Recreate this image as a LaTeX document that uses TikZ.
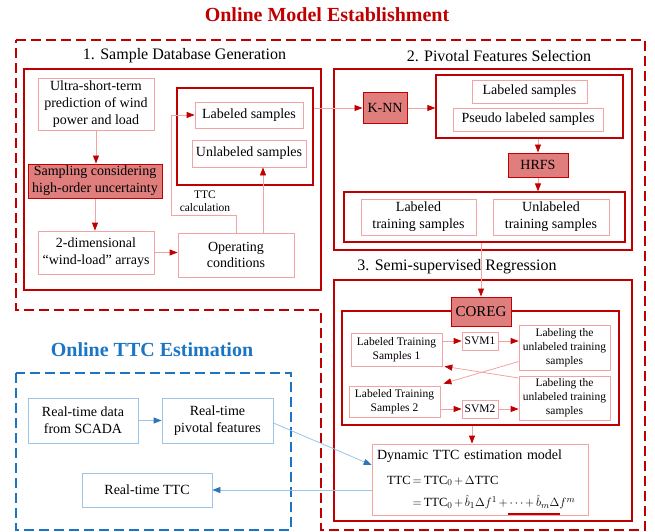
\documentclass[tikz,border=0pt]{standalone}
\usepackage{fontspec}
\setmainfont{Liberation Serif}
\usetikzlibrary{arrows.meta}
\definecolor{darkred}{HTML}{C00000}
\definecolor{pinkline}{HTML}{F2A4A4}
\definecolor{keyfill}{HTML}{E07E7E}
\definecolor{darkblue}{HTML}{1A75C4}
\definecolor{lightblue}{HTML}{9DC3E6}
\definecolor{tipblue}{HTML}{2E75B6}
\tikzstyle{plainbox} = [rectangle, draw=pinkline, line width=0.8pt, inner sep=1pt, align=center, font=\fontsize{14}{16.7}\selectfont]
\tikzstyle{smallbox} = [plainbox, font=\fontsize{11.5}{14}\selectfont]
\tikzstyle{keybox} = [rectangle, draw=darkred, fill=keyfill, line width=1pt, inner sep=1pt, align=center, font=\fontsize{14}{16.7}\selectfont]
\tikzstyle{groupbox} = [rectangle, draw=darkred, line width=1.2pt, inner sep=0pt]
\tikzstyle{stagebox} = [rectangle, draw=darkred, line width=1.5pt, inner sep=0pt]
\tikzstyle{bluebox} = [rectangle, draw=lightblue, line width=0.8pt, inner sep=1pt, align=center, font=\fontsize{14}{16.7}\selectfont]
\tikzstyle{stagetitle} = [font=\fontsize{16}{19}\selectfont]
\tikzstyle{maintitle} = [font=\fontsize{20}{24}\selectfont\bfseries]
\tikzstyle{plainline} = [draw=pinkline, line width=0.8pt]
\tikzstyle{arrow} = [plainline, -{Triangle[length=8pt,width=6pt,color=darkred]}]
\tikzstyle{bluearrow} = [draw=lightblue, line width=0.8pt, -{Triangle[length=8pt,width=6pt,color=tipblue]}]
\newcommand{\tight}{\medmuskip=2.5mu\thickmuskip=3mu}
\begin{document}
\begin{tikzpicture}[x=1pt,y=-1pt]
\useasboundingbox (0,0) rectangle (655,532);

% Regions
\draw[darkred, line width=1.8pt, dash pattern=on 10pt off 5pt] (16,40) -- (645,40) -- (645,530) -- (321,530) -- (321,310) -- (16,310) -- cycle;
\draw[darkblue, line width=1.8pt, dash pattern=on 10pt off 5pt] (16,373) rectangle (291,530);

\node (title) [maintitle, text=darkred] at (327,15) {Online Model Establishment};
\node (esttitle) [maintitle, text=darkblue] at (152,350) {Online TTC Estimation};

% Stages
\node (stage1) [stagebox, minimum width=297pt, minimum height=221pt] at (172.5,179.5) {};
\node (stage2) [stagebox, minimum width=298pt, minimum height=181pt] at (483,159.5) {};
\node (stage3) [stagebox, minimum width=298pt, minimum height=241pt] at (483,400.5) {};
\node (t1) [stagetitle] at (184.5,56) {1. Sample Database Generation};
\node (t2) [stagetitle] at (499,56) {2. Pivotal Features Selection};
\node (t3) [stagetitle] at (457,267) {3. Semi-supervised Regression};

% Stage 1
\node (ultra) [plainbox, minimum width=116pt, minimum height=52pt] at (96,104) {Ultra-short-term\\prediction of wind\\power and load};
\node (sampling) [keybox, minimum width=134pt, minimum height=34pt] at (95,181) {Sampling considering\\high-order uncertainty};
\node (arrays) [plainbox, minimum width=116pt, minimum height=43pt] at (96,252.5) {2-dimensional\\``wind-load'' arrays};
\node (opcond) [plainbox, minimum width=116pt, minimum height=44pt] at (236,255) {Operating\\conditions};
\node (grpA) [groupbox, minimum width=136pt, minimum height=97pt] at (245,136.5) {};
\node (labA) [plainbox, minimum width=108pt, minimum height=26pt] at (249,115) {Labeled samples};
\node (unlabA) [plainbox, minimum width=114pt, minimum height=27pt] at (249,153.5) {Unlabeled samples};
\coordinate (ttcbend) at (171,215);
\node (ttccalc) [font=\fontsize{11.5}{13}\selectfont, align=center] at (205,201) {TTC\\calculation};

% Stage 2
\node (knn) [keybox, minimum width=44pt, minimum height=30pt] at (385,108) {K-NN};
\node (grpB) [groupbox, minimum width=187pt, minimum height=63pt] at (529.5,106.5) {};
\node (labB) [plainbox, minimum width=115pt, minimum height=23pt] at (529.5,91.5) {Labeled samples};
\node (pseudo) [plainbox, minimum width=150pt, minimum height=23pt] at (528,119.5) {Pseudo labeled samples};
\node (hrfs) [keybox, minimum width=60pt, minimum height=24pt] at (538,165) {HRFS};
\node (grpC) [groupbox, minimum width=281pt, minimum height=50pt] at (484.5,217) {};
\node (labtrain) [plainbox, minimum width=115pt, minimum height=36pt] at (418.5,217) {Labeled\\training samples};
\node (unlabtrain) [plainbox, minimum width=116pt, minimum height=36pt] at (551,217) {Unlabeled\\training samples};

% Stage 3
\node (grpD) [groupbox, minimum width=277pt, minimum height=114pt] at (480.5,368) {};
\node (coreg) [keybox, minimum width=60pt, minimum height=29pt, font=\fontsize{15}{18}\selectfont] at (481,311.5) {COREG};
\node (lts1) [smallbox, minimum width=91pt, minimum height=33pt] at (396.5,349.5) {Labeled Training\\Samples 1};
\node (svm1) [smallbox, minimum width=36pt, minimum height=18pt] at (480,341) {SVM1};
\node (lab1) [smallbox, minimum width=91pt, minimum height=45pt] at (564.5,347.5) {Labeling the\\unlabeled training\\samples};
\node (lts2) [smallbox, minimum width=91pt, minimum height=31pt] at (394.5,401.5) {Labeled Training\\Samples 2};
\node (svm2) [smallbox, minimum width=36pt, minimum height=18pt] at (480,409) {SVM2};
\node (lab2) [smallbox, minimum width=91pt, minimum height=44pt] at (564.5,398) {Labeling the\\unlabeled training\\samples};
\node (dyn) [plainbox, text width=206pt, minimum height=71pt, align=left, inner sep=5pt] at (480,479.5) {\mbox{Dynamic TTC estimation model}\\[8pt]
  \mbox{\fontsize{12.5}{14}\selectfont\hspace*{10pt}$\tight\mathrm{TTC}=\mathrm{TTC}_0+\Delta\mathrm{TTC}$}\\[6pt]
  \mbox{\fontsize{12.5}{14}\selectfont\hspace*{10pt}$\tight\phantom{\mathrm{TTC}}=\mathrm{TTC}_0+\hat{b}_1\Delta f^1+\cdots+\hat{b}_m\Delta f^m$}};
\draw[darkred, line width=1.5pt] (508,514) -- (560,514);

% Online estimation
\node (rtdata) [bluebox, minimum width=110pt, minimum height=45pt] at (83,420.5) {Real-time data\\from SCADA};
\node (rtpiv) [bluebox, minimum width=111pt, minimum height=45pt] at (217.5,420.5) {Real-time\\pivotal features};
\node (rtttc) [bluebox, minimum width=130pt, minimum height=34pt] at (147,490) {Real-time TTC};

% Arrows
\draw [arrow] (ultra.south) -- (ultra.south |- sampling.north);
\draw [arrow] (sampling.south) -- (sampling.south |- arrays.north);
\draw [arrow] (arrays.east) -- (arrays.east -| opcond.west);
\draw [arrow] (opcond.north) |- (ttcbend) |- (labA.west);
\draw [arrow] ([xshift=27pt]opcond.north) -- ([xshift=27pt]opcond.north |- unlabA.south);

\draw [arrow] (grpA.east |- knn.west) -- (knn.west);
\draw [arrow] (knn.east) -- (knn.east -| grpB.west);
\draw [arrow] (hrfs.north |- grpB.south) -- (hrfs.north);
\draw [arrow] (hrfs.south) -- (hrfs.south |- grpC.north);
\draw [arrow] (coreg.north |- grpC.south) -- (coreg.north);

\draw [arrow] (lts1.east |- svm1.west) -- (svm1.west);
\draw [arrow] (svm1.east) -- (svm1.east -| lab1.west);
\draw [arrow] (lts2.east |- svm2.west) -- (svm2.west);
\draw [arrow] (svm2.east) -- (svm2.east -| lab2.west);
\draw [arrow] ([yshift=-14pt]lab1.west) -- ([xshift=3pt,yshift=2pt]lts2.north east);
\draw [arrow] ([yshift=20pt]lab2.west) -- ([xshift=2pt]lts1.south east);
\draw [arrow] ([xshift=-8pt]dyn.north |- grpD.south) -- ([xshift=-8pt]dyn.north);

\draw [bluearrow] (rtdata.east) -- (rtpiv.west);
\draw [bluearrow] ([yshift=-2.5pt]rtpiv.east) -- ([yshift=14.5pt]dyn.west);
\draw [bluearrow] (dyn.west |- rtttc.east) -- (rtttc.east);

\end{tikzpicture}
\end{document}
